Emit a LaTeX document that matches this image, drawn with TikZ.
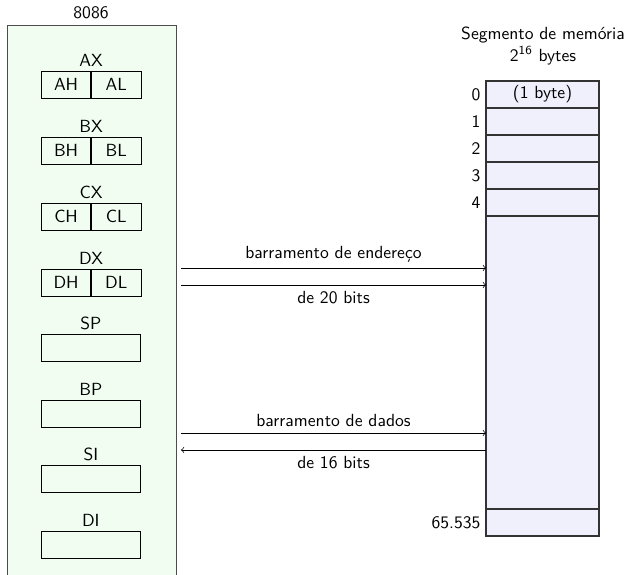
\documentclass[tikz,border=0pt]{standalone}
\usepackage{amsmath}
\usetikzlibrary{positioning}
\definecolor{cpugreen}{RGB}{240,253,240}
\definecolor{memblue}{RGB}{240,240,253}

\begin{document}
\begin{tikzpicture}[x=0.02cm,y=-0.02cm,font=\sffamily,
    half/.style={draw,fill=cpugreen,minimum width=0.99cm,minimum height=0.54cm,inner sep=0pt},
    full/.style={draw,fill=cpugreen,minimum width=1.98cm,minimum height=0.54cm,inner sep=0pt},
    cell/.style={draw,thick,draw=black!80,fill=memblue,minimum width=2.26cm,minimum height=0.54cm,inner sep=0pt,outer sep=0pt},
    idx/.style={left=1pt,inner sep=2pt}]
  \clip (0,0) rectangle (631,574);

  % the 8086 and its registers
  \filldraw[fill=cpugreen,draw=black!70] (7,590) -- (7,25) -- (176,25) -- (176,590);
  \node[above] (cpu) at (91,25) {8086};
  \foreach \n/\y in {A/71, B/137, C/203, D/269}
  {
    \node[half,anchor=north west] (\n h) at (41,\y) {\n H};
    \node[half,anchor=west] (\n l) at (\n h.east) {\n L};
    \node[above=-1pt] (\n x) at (\n h.north east) {\n X};
  }
  \foreach \r/\y in {SP/334, BP/400, SI/465, DI/531}
  {
    \node[full,anchor=north west] (\r) at (41,\y) {};
    \node[above=-1pt] (\r name) at (\r.north) {\r};
  }

  % memory segment
  \node[align=center] (segtitle) at (543,46) {Segmento de mem\'oria\\2\textsuperscript{16} bytes};
  \node[cell,anchor=north west] (m0) at (486,81) {(1 byte)};
  \foreach \i [remember=\i as \j (initially 0)] in {1,...,4}
    \node[cell,below=0pt of m\j] (m\i) {};
  \node[cell,minimum height=5.86cm,below=0pt of m4] (mrest) {};
  \node[cell,below=0pt of mrest] (mlast) {};
  \foreach \i in {0,...,4}
    \node[idx] at (m\i.west) {\i};
  \node[idx] at (mlast.west) {65.535};

  % buses
  \coordinate (addr1) at (181,268);
  \coordinate (addr2) at (181,285);
  \coordinate (data1) at (181,433);
  \coordinate (data2) at (181,450);
  \draw[->] (addr1) -- node[above] {barramento de endere\c{c}o} (addr1 -| mrest.west);
  \draw[->] (addr2) -- node[below] {de 20 bits} (addr2 -| mrest.west);
  \draw[->] (data1) -- node[above] {barramento de dados} (data1 -| mrest.west);
  \draw[<-] (data2) -- node[below] {de 16 bits} (data2 -| mrest.west);
\end{tikzpicture}
\end{document}
